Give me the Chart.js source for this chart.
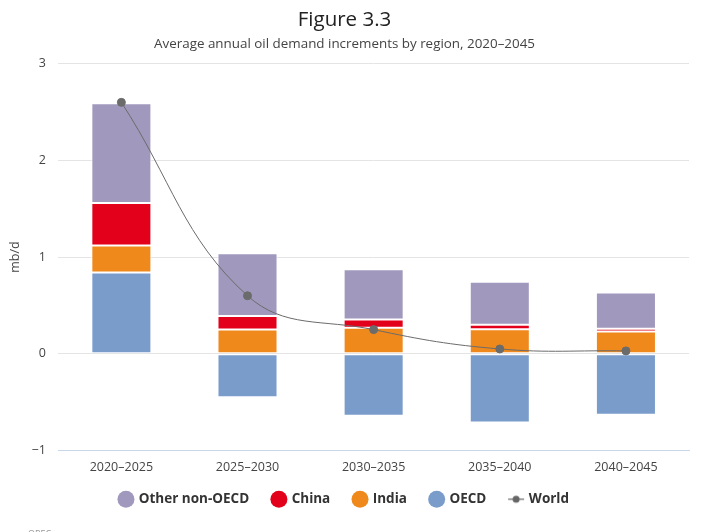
<!DOCTYPE html>
<html>
<head>
<meta charset="utf-8">
<script src="https://cdn.jsdelivr.net/npm/chart.js@4.4.0/dist/chart.umd.min.js"></script>
<style>
  html, body { margin: 0; padding: 0; background: #fff; overflow: hidden; }
  #wrap { position: relative; width: 720px; height: 532px; }
  #credit { position: absolute; left: 28px; top: 527px; font: 9px "Open Sans", sans-serif; color: #999; }
</style>
</head>
<body>
<div id="wrap">
  <canvas id="demandChart" width="720" height="532"></canvas>
  <div id="credit">OPEC</div>
</div>
<script>
// Average annual oil demand increments by region (mb/d)
const periods = ['2020–2025', '2025–2030', '2030–2035', '2035–2040', '2040–2045'];
const oecd = [0.84, -0.45, -0.64, -0.71, -0.63];
const india = [0.28, 0.25, 0.27, 0.255, 0.23];
const china = [0.44, 0.14, 0.085, 0.045, 0.03];
const otherNonOecd = [1.03, 0.65, 0.52, 0.445, 0.375];
const world = [2.6, 0.6, 0.25, 0.05, 0.03];
const yTicks = [-1, 0, 1, 2, 3];

const fontFamily = '"Open Sans", "DejaVu Sans", sans-serif';

// legend icon for the World series: line with a dot
function worldIcon() {
    const c = document.createElement('canvas');
    c.width = 18; c.height = 10;
    const g = c.getContext('2d');
    g.strokeStyle = '#666';
    g.lineWidth = 1.2;
    g.beginPath(); g.moveTo(1, 5); g.lineTo(17, 5); g.stroke();
    g.fillStyle = '#666';
    g.beginPath(); g.arc(9, 5, 3.5, 0, Math.PI * 2); g.fill();
    return c;
}

document.addEventListener('DOMContentLoaded', function() {
    const ctx = document.getElementById('demandChart').getContext('2d');
    new Chart(ctx, {
        data: {
            labels: periods,
            datasets: [
                {
                    type: 'line',
                    label: 'World',
                    data: world,
                    borderColor: '#6b6b6b',
                    backgroundColor: '#6b6b6b',
                    borderWidth: 1,
                    pointRadius: 4,
                    pointHoverRadius: 4,
                    tension: 0.4,
                    order: 0
                },
                { type: 'bar', label: 'OECD', data: oecd, backgroundColor: '#7a9ccb', order: 1 },
                { type: 'bar', label: 'India', data: india, backgroundColor: '#f0891c', order: 1 },
                { type: 'bar', label: 'China', data: china, backgroundColor: '#e2001a', order: 1 },
                { type: 'bar', label: 'Other non-OECD', data: otherNonOecd, backgroundColor: '#a198bd', order: 1 }
            ]
        },
        options: {
            responsive: false,
            animation: false,
            layout: { padding: { left: 0, right: 31, top: 0, bottom: 16 } },
            datasets: {
                bar: {
                    stack: 'regions',
                    barPercentage: 0.476,
                    categoryPercentage: 1,
                    borderColor: '#ffffff',
                    borderWidth: 1,
                    borderSkipped: false
                }
            },
            scales: {
                x: {
                    stacked: true,
                    grid: { display: false },
                    border: { color: '#c8d6e8' },
                    ticks: { color: '#444', font: { family: fontFamily, size: 12.5 }, padding: 1 }
                },
                y: {
                    stacked: true,
                    min: -1,
                    max: 3,
                    afterBuildTicks: function(axis) {
                        axis.ticks = yTicks.map(v => ({ value: v }));
                    },
                    grid: { color: '#e4e4e4', drawTicks: false },
                    border: { display: false },
                    ticks: {
                        color: '#444',
                        font: { family: fontFamily, size: 12.5 },
                        padding: 12.5,
                        callback: function(v) { return v < 0 ? '−' + Math.abs(v) : v; }
                    },
                    title: {
                        display: true,
                        text: 'mb/d',
                        color: '#444',
                        font: { family: fontFamily, size: 12.5 },
                        padding: { top: 8, bottom: -4 }
                    }
                }
            },
            plugins: {
                title: {
                    display: true,
                    text: 'Figure 3.3',
                    color: '#222',
                    font: { family: fontFamily, size: 20.5, weight: 'normal' },
                    padding: { top: 8, bottom: 4 }
                },
                subtitle: {
                    display: true,
                    text: 'Average annual oil demand increments by region, 2020–2045',
                    color: '#444',
                    font: { family: fontFamily, size: 13.4 },
                    padding: { bottom: 11 }
                },
                legend: {
                    position: 'bottom',
                    labels: {
                        usePointStyle: true,
                        boxWidth: 12,
                        boxHeight: 12,
                        padding: 17,
                        color: '#333',
                        font: { family: fontFamily, size: 13.5, weight: 'bold' },
                        generateLabels: function(chart) {
                            const order = ['Other non-OECD', 'China', 'India', 'OECD', 'World'];
                            const sets = chart.data.datasets;
                            return order.map(function(name, k) {
                                const i = sets.findIndex(d => d.label === name);
                                const ds = sets[i];
                                // trailing space widens the gap between items
                                const gap = k < order.length - 1 ? '\u2002' : '';
                                return {
                                    text: name + gap,
                                    datasetIndex: i,
                                    fillStyle: ds.backgroundColor,
                                    strokeStyle: ds.backgroundColor,
                                    lineWidth: 0,
                                    pointStyle: name === 'World' ? worldIcon() : 'circle',
                                    fontColor: '#333',
                                    hidden: !chart.isDatasetVisible(i)
                                };
                            });
                        }
                    }
                },
                tooltip: { enabled: false }
            }
        }
    });
});
</script>
</body>
</html>
